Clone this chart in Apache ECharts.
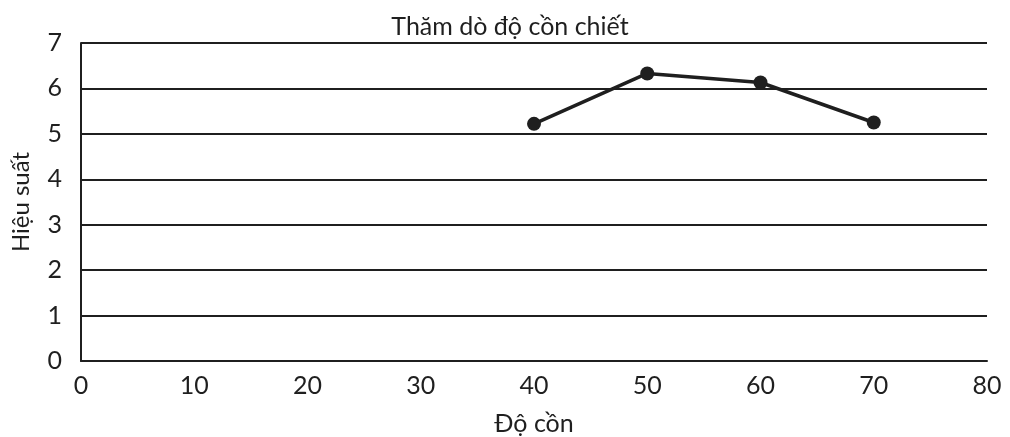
<!DOCTYPE html>
<html>
<head>
<meta charset="utf-8">
<script src="https://cdn.jsdelivr.net/npm/echarts@6/dist/echarts.min.js"></script>
<style>
  html, body { margin: 0; padding: 0; background: #fff; }
  #chart { width: 1010px; height: 437px; }
</style>
</head>
<body>
<div id="chart"></div>
<script>
// Alcohol concentration (%) vs. extraction yield
const alcohol = [40, 50, 60, 70];
const yieldValues = [5.22, 6.33, 6.13, 5.25];
const titleText = 'Thăm dò độ cồn chiết';
const xName = 'Độ cồn';
const yName = 'Hiệu suất';

const FONT = 'Lato, "Open Sans", sans-serif';
const INK = '#1f1f1f';

const chart = echarts.init(document.getElementById('chart'), null, { renderer: 'canvas' });
chart.setOption({
  animation: false,
  backgroundColor: '#fff',
  title: {
    text: titleText,
    left: 505,
    textAlign: 'center',
    top: 9,
    textStyle: { fontFamily: FONT, fontSize: 25, fontWeight: 'normal', color: INK }
  },
  grid: { left: 81, right: 23, top: 43, bottom: 76, containLabel: false, outerBoundsMode: 'none' },
  xAxis: {
    type: 'value',
    min: 0, max: 80, interval: 10,
    name: xName,
    nameLocation: 'middle',
    nameGap: 50,
    nameTextStyle: { fontFamily: FONT, fontSize: 25, color: INK },
    axisLine: { show: true, lineStyle: { color: INK, width: 2 } },
    axisTick: { show: false },
    splitLine: { show: false },
    axisLabel: { fontFamily: FONT, fontSize: 25, color: INK, margin: 12 }
  },
  yAxis: {
    type: 'value',
    min: 0, max: 7, interval: 1,
    name: yName,
    nameLocation: 'middle',
    nameGap: 48,
    nameTextStyle: { fontFamily: FONT, fontSize: 24, color: INK },
    axisLine: { show: true, lineStyle: { color: INK, width: 2 } },
    axisTick: { show: false },
    splitLine: { show: true, lineStyle: { color: INK, width: 2 } },
    axisLabel: { fontFamily: FONT, fontSize: 25, color: INK, margin: 19 }
  },
  series: [{
    type: 'line',
    data: alcohol.map((x, i) => [x, yieldValues[i]]),
    symbol: 'circle',
    symbolSize: 14,
    lineStyle: { color: INK, width: 3.5 },
    itemStyle: { color: INK }
  }]
});
</script>
</body>
</html>
